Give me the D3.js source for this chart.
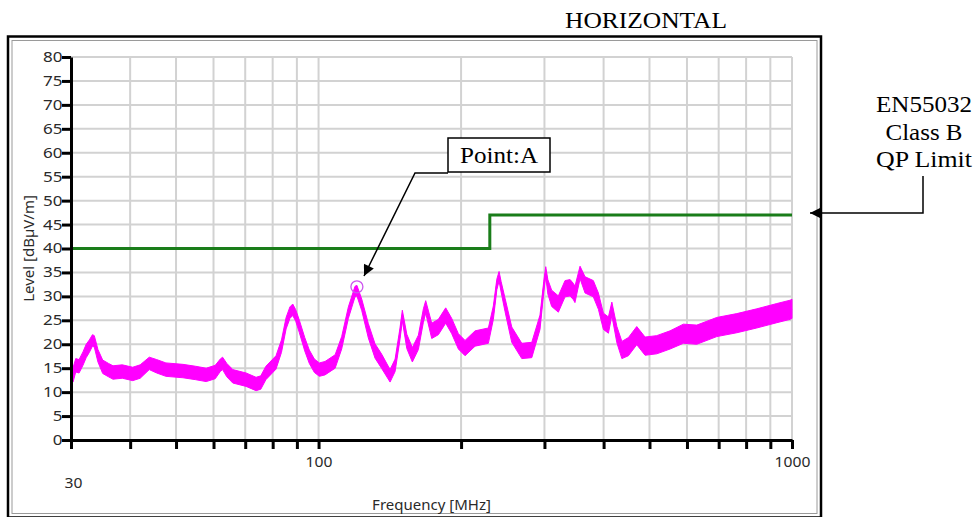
<!DOCTYPE html>
<html><head><meta charset="utf-8">
<script src="https://cdn.jsdelivr.net/npm/d3@7"></script>
<style>body{margin:0;background:#fff}svg{display:block}</style>
</head><body><svg id="c" width="978" height="517"></svg>
<script>
// ---- data ----
const freqMHz = [30.0,30.3,30.7,31.2,31.8,32.3,32.8,33.3,33.6,34.2,35.0,36.0,36.8,38.5,40.5,42.0,43.9,45.5,47.6,51.7,55.0,57.9,60.5,62.0,62.7,64.0,65.9,70.3,73.8,75.5,77.4,81.3,83.5,85.4,87.0,88.2,89.5,91.1,93.5,95.6,98.0,100.4,103.2,108.4,111.9,115.6,119.4,120.5,123.4,127.4,131.6,136.0,141.6,145.1,148.5,150.3,153.6,157.8,162.5,166.5,168.4,173.4,179.1,185.6,191.1,197.4,203.9,214.1,228.4,234.0,238.0,240.6,243.0,247.7,255.9,268.7,282.1,293.6,299.0,301.9,305.0,310.7,321.0,331.6,339.9,345.4,348.0,356.7,365.5,380.5,390.0,399.6,409.5,416.4,426.7,437.2,451.3,470.0,489.4,518.0,552.6,589.7,629.4,693.7,764.5,842.6,928.7,990.9,1000];
const levelDb = [14.2,13.6,15.6,15.4,17.0,18.6,19.6,20.8,20.6,17.6,15.3,14.6,14.1,14.3,13.8,14.3,16.0,15.4,14.7,14.4,14.0,13.6,14.2,15.6,16.0,14.6,13.3,12.6,11.7,12.0,14.0,16.2,19.6,24.4,26.6,27.2,26.0,23.7,20.0,17.4,15.5,14.7,15.0,16.4,20.3,26.6,31.0,31.2,28.2,22.8,18.6,16.4,13.4,15.6,22.0,26.0,20.6,17.8,20.4,26.0,27.8,22.8,23.6,26.0,23.8,20.6,19.2,21.2,21.8,26.6,32.5,34.2,32.0,28.2,22.0,18.6,18.8,24.6,32.0,35.2,32.0,29.6,28.4,31.6,31.8,31.0,30.4,35.0,32.4,31.6,29.0,24.8,24.0,27.4,22.0,18.8,19.5,21.8,19.6,19.9,20.9,22.2,22.0,23.6,24.4,25.4,26.5,27.2,27.4];
const noiseDb = [1.8,1.5,1.4,1.4,1.4,1.4,1.3,1.2,1.2,1.3,1.4,1.4,1.4,1.4,1.4,1.4,1.3,1.4,1.4,1.4,1.4,1.4,1.4,1.3,1.3,1.4,1.4,1.4,1.4,1.4,1.4,1.4,1.3,1.2,1.2,1.2,1.2,1.3,1.4,1.4,1.4,1.4,1.4,1.4,1.3,1.2,1.1,1.1,1.2,1.5,1.5,1.5,1.3,1.3,1.2,1.1,1.5,1.5,1.5,1.4,1.3,1.6,1.6,1.6,1.6,1.6,1.6,1.6,1.6,1.4,1.1,1.0,1.1,1.4,1.6,1.6,1.6,1.5,1.1,1.0,1.5,1.7,1.7,1.7,1.7,1.7,1.7,1.3,1.7,1.7,1.7,1.7,1.7,1.4,1.7,1.8,1.9,1.9,1.9,1.9,1.9,2.0,2.0,2.0,2.0,2.0,2.0,2.0,2.0];
const limitFreq = [30, 230, 230, 1000];
const limitDb = [40, 40, 47, 47];
const yTicks = [0,5,10,15,20,25,30,35,40,45,50,55,60,65,70,75,80];
const xTicks = [30,40,50,60,70,80,90,100,200,300,400,500,600,700,800,900,1000];
const xTickLabels = {30:"30", 100:"100", 1000:"1000"};
const pointA = {freq: 120.5, level: 32};

// ---- chart ----
const svg = d3.select("#c");
const sans = "'Noto Sans', 'Open Sans', sans-serif";
const serif = "'Liberation Serif', 'Times New Roman', serif";
const x = d3.scaleLog().domain([30, 1000]).range([71, 792]);
const y = d3.scaleLinear().domain([0, 80]).range([440, 57]);

// frame
svg.append("rect").attr("x",8).attr("y",36.5).attr("width",813).attr("height",481)
  .attr("fill","none").attr("stroke","#000").attr("stroke-width",2.5);
svg.append("rect").attr("x",12).attr("y",40.5).attr("width",805).attr("height",473)
  .attr("fill","none").attr("stroke","#9a9a9a").attr("stroke-width",1);

// grid
const grid = svg.append("g");
grid.selectAll("line.v").data(xTicks).join("line")
  .attr("x1",d=>x(d)).attr("x2",d=>x(d)).attr("y1",y(0)).attr("y2",y(80))
  .attr("stroke","#d2d2d2").attr("stroke-width",2);
grid.selectAll("line.h").data(yTicks).join("line")
  .attr("x1",x(30)).attr("x2",x(1000)).attr("y1",d=>y(d)).attr("y2",d=>y(d))
  .attr("stroke","#d2d2d2").attr("stroke-width",2);

// trace
const pts = freqMHz.map((f,i)=>({f, v: levelDb[i], n: noiseDb[i]}));
svg.append("path").datum(pts)
  .attr("d", d3.area().x(d=>x(d.f)).y0(d=>y(d.v-d.n)).y1(d=>y(d.v+d.n)))
  .attr("fill","#ff00ff").attr("stroke","#ff00ff").attr("stroke-width",1);
svg.append("path").datum(pts)
  .attr("d", d3.line().x(d=>x(d.f)).y(d=>y(d.v)))
  .attr("fill","none").attr("stroke","#ff00ff").attr("stroke-width",1.5);

// limit
svg.append("path").datum(limitFreq.map((f,i)=>[f,limitDb[i]]))
  .attr("d", d3.line().x(d=>x(d[0])).y(d=>y(d[1])))
  .attr("fill","none").attr("stroke","#1a7d1a").attr("stroke-width",3);

// point marker
svg.append("circle").attr("cx",x(pointA.freq)).attr("cy",y(pointA.level)).attr("r",6)
  .attr("fill","none").attr("stroke","#cc55ee").attr("stroke-width",1.3);

// axes
const yAx = svg.append("g").attr("transform",`translate(${x(30)},0)`)
  .call(d3.axisLeft(y).tickValues(yTicks).tickSize(9).tickSizeOuter(0).tickPadding(4));
const xAx = svg.append("g").attr("transform",`translate(0,${y(0)})`)
  .call(d3.axisBottom(x).tickValues(xTicks).tickSize(9).tickSizeOuter(0).tickPadding(8)
    .tickFormat(d=>xTickLabels[d] || ""));
[yAx,xAx].forEach(a=>{
  a.select(".domain").attr("stroke","#000").attr("stroke-width",3);
  a.selectAll(".tick line").attr("stroke","#000").attr("stroke-width",3);
  a.selectAll(".tick text").attr("fill","#2a2a2a").style("font-family",sans).style("font-size","14px");
});
yAx.selectAll(".tick text").attr("x",-8.5/1.22).attr("transform","scale(1.22,1)");
xAx.selectAll(".tick text").attr("transform","scale(1.12,1)");
xAx.selectAll(".tick text").filter(d=>d===30).attr("dy","2.2em");
xAx.selectAll(".tick").filter(d=>d===30).select("text").attr("transform","translate(2,0) scale(1.12,1)");

// axis titles
svg.append("text").attr("x",(x(30)+x(1000))/2).attr("y",510).attr("text-anchor","middle")
  .attr("fill","#2a2a2a").style("font-family",sans).style("font-size","15px").text("Frequency [MHz]");
svg.append("text").attr("transform",`translate(34,${(y(0)+y(80))/2}) rotate(-90)`)
  .attr("text-anchor","middle").attr("fill","#2a2a2a").style("font-family",sans).style("font-size","15px")
  .text("Level [dBµV/m]");

// title
svg.append("text").attr("x",646).attr("y",28).attr("text-anchor","middle")
  .attr("textLength",162).attr("lengthAdjust","spacingAndGlyphs")
  .style("font-family",serif).style("font-size","23px").attr("fill","#000").text("HORIZONTAL");

// arrow marker
svg.append("defs").append("marker").attr("id","arr").attr("viewBox","0 0 10 10")
  .attr("refX",10).attr("refY",5).attr("markerWidth",13).attr("markerHeight",11)
  .attr("markerUnits","userSpaceOnUse").attr("orient","auto")
  .append("path").attr("d","M0,0L10,5L0,10z").attr("fill","#000");

// Point:A callout
svg.append("rect").attr("x",448).attr("y",138).attr("width",102).attr("height",34)
  .attr("fill","#fff").attr("stroke","#000").attr("stroke-width",1.5);
svg.append("text").attr("x",499).attr("y",163).attr("text-anchor","middle")
  .attr("textLength",78).attr("lengthAdjust","spacingAndGlyphs")
  .style("font-family",serif).style("font-size","23px").text("Point:A");
svg.append("path").attr("d","M448,173H415L364,276").attr("fill","none")
  .attr("stroke","#000").attr("stroke-width",1.5).attr("marker-end","url(#arr)");

// limit callout
const lab = ["EN55032","Class B","QP Limit"];
const labW = [96, 77, 96];
svg.append("g").selectAll("text").data(lab).join("text")
  .attr("x",924).attr("y",(d,i)=>112+i*27.5).attr("text-anchor","middle")
  .attr("textLength",(d,i)=>labW[i]).attr("lengthAdjust","spacingAndGlyphs")
  .style("font-family",serif).style("font-size","23px").text(d=>d);
svg.append("path").attr("d",`M923,176V${y(47)-2}H810`).attr("fill","none")
  .attr("stroke","#000").attr("stroke-width",1.5).attr("marker-end","url(#arr)");
</script></body></html>
